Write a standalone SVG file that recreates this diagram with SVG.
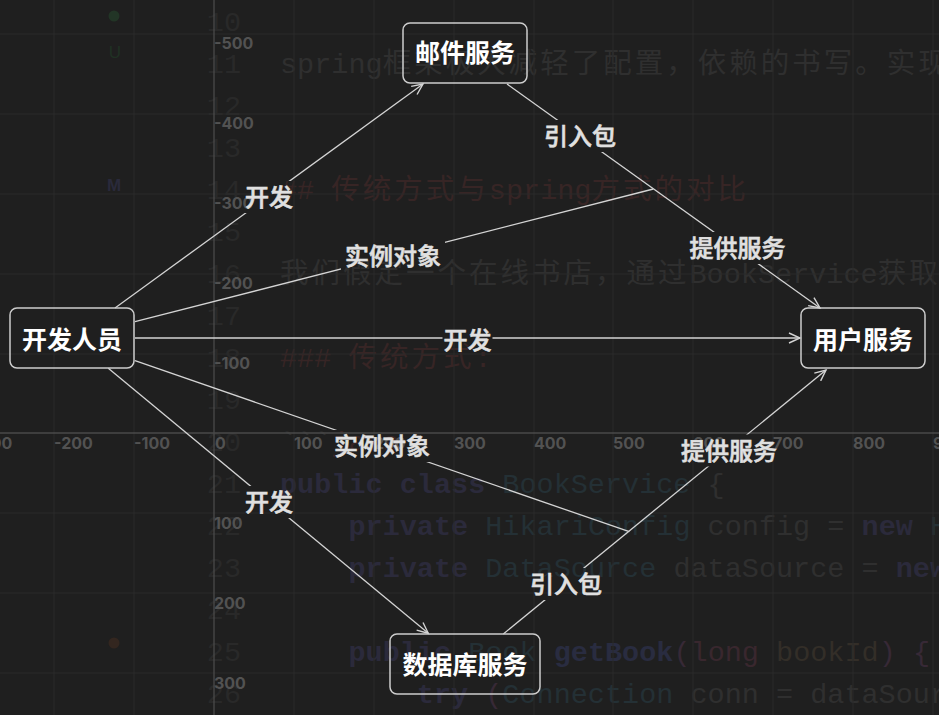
<svg xmlns="http://www.w3.org/2000/svg" width="939" height="715" viewBox="0 0 939 715">
<defs>
<style>
.bg{fill:#1f1f1f}
.grid{stroke:#2a2a2a;stroke-width:1}
.axis{stroke:#4a4a4a;stroke-width:1.3}
.ax{font-family:"Inter","Liberation Sans",sans-serif;font-size:16px;font-weight:700;fill:#525252}
.ax text{fill:#525252}
.code{font-family:"Liberation Mono","Noto Sans CJK SC",monospace;font-size:28.5px;fill:#2f2f2f}
.cjk{font-family:"Noto Sans CJK SC",sans-serif;letter-spacing:3px}
.ln{fill:#292929;text-anchor:end}
.hd{fill:#372525}
.kw{fill:#2b2a3b;font-weight:bold}
.ty{fill:#243035}
.fn{fill:#292c40;font-weight:bold}
.pn{fill:#372936}
.lg{fill:#39272e}
.id{fill:#332e28}
.node rect{fill:none;stroke:#cdcdcd;stroke-width:1.5}
.node text{font-family:"Noto Sans CJK SC",sans-serif;font-size:25px;font-weight:bold;fill:#ffffff;text-anchor:middle}
.edge{fill:none;stroke:#d4d4d4;stroke-width:1.3}
.lbl{font-family:"Noto Sans CJK SC",sans-serif;font-size:24px;font-weight:500;fill:#e0e0e0;stroke:#e0e0e0;stroke-width:0.6;text-anchor:middle}
</style>
<marker id="arr" markerUnits="userSpaceOnUse" markerWidth="14" markerHeight="12" refX="12" refY="6" orient="auto">
<path d="M1,1 L12,6 L1,11" fill="none" stroke="#d4d4d4" stroke-width="1.4"/>
</marker>
<mask id="gap" maskUnits="userSpaceOnUse" x="0" y="0" width="939" height="715">
<rect x="0" y="0" width="939" height="715" fill="#fff"/>
<rect x="242" y="181" width="54" height="32" fill="#000"/>
<rect x="541" y="120" width="78" height="32" fill="#000"/>
<rect x="341" y="241" width="104" height="30" fill="#000"/>
<rect x="685.5" y="232" width="104" height="32" fill="#000"/>
<rect x="442.5" y="325" width="50" height="30" fill="#000"/>
<rect x="330" y="430" width="104" height="32" fill="#000"/>
<rect x="677" y="434.5" width="104" height="32" fill="#000"/>
<rect x="242" y="486" width="54" height="32" fill="#000"/>
<rect x="527" y="568" width="78" height="32" fill="#000"/>
</mask>
</defs>

<rect class="bg" x="0" y="0" width="939" height="715"/>

<g id="background-code" class="code">
<text class="ln" x="241" y="31">10</text>
<text class="ln" x="241" y="73">11</text>
<text class="ln" x="241" y="115">12</text>
<text class="ln" x="241" y="157">13</text>
<text class="ln" x="241" y="199">14</text>
<text class="ln" x="241" y="241">15</text>
<text class="ln" x="241" y="283">16</text>
<text class="ln" x="241" y="325">17</text>
<text class="ln" x="241" y="367">18</text>
<text class="ln" x="241" y="409">19</text>
<text class="ln" x="241" y="451">20</text>
<text class="ln" x="241" y="493">21</text>
<text class="ln" x="241" y="535">22</text>
<text class="ln" x="241" y="577">23</text>
<text class="ln" x="241" y="619">24</text>
<text class="ln" x="241" y="661">25</text>
<text class="ln" x="241" y="703">26</text>
<text x="280" y="73">spring<tspan class="cjk">框架极大减轻了配置，依赖的书写。实现</tspan></text>
<text class="hd" x="280" y="199">## <tspan class="cjk">传统方式与</tspan>spring<tspan class="cjk">方式的对比</tspan></text>
<text x="280" y="283"><tspan class="cjk">我们假定一个在线书店，通过</tspan>BookService<tspan class="cjk">获取</tspan></text>
<text class="hd" x="280" y="367">### <tspan class="cjk">传统方式</tspan>:</text>
<text x="280" y="451">```<tspan class="hd">java</tspan></text>
<text x="280" y="493" xml:space="preserve"><tspan class="kw">public class</tspan> <tspan class="ty">BookService</tspan> {</text>
<text x="280" y="535" xml:space="preserve">    <tspan class="kw">private</tspan> <tspan class="ty">HikariConfig</tspan> config = <tspan class="kw">new</tspan> <tspan class="ty">HikariConfig</tspan>();</text>
<text x="280" y="577" xml:space="preserve">    <tspan class="kw">private</tspan> <tspan class="ty">DataSource</tspan> dataSource = <tspan class="kw">new</tspan> <tspan class="ty">HikariDataSource</tspan>(config);</text>
<text x="280" y="661" xml:space="preserve">    <tspan class="kw">public</tspan> <tspan class="ty">Book</tspan> <tspan class="fn">getBook</tspan><tspan class="pn">(</tspan><tspan class="lg">long</tspan> <tspan class="id">bookId</tspan><tspan class="pn">)</tspan> <tspan class="pn">{</tspan></text>
<text x="280" y="703" xml:space="preserve">        <tspan class="kw">try</tspan> <tspan class="pn">(</tspan><tspan class="ty">Connection</tspan> conn = dataSource.getConnection()) {</text>
<circle cx="114" cy="16" r="5.5" fill="#223526"/>
<text x="115" y="58" text-anchor="middle" style="font-family:'Liberation Sans',sans-serif;font-size:17px;fill:#1f3123">U</text>
<text x="114" y="191" text-anchor="middle" style="font-family:'Liberation Sans',sans-serif;font-size:17px;font-weight:bold;fill:#2a2a3b">M</text>
<circle cx="114" cy="643" r="5.5" fill="#33261f"/>
</g>

<g id="grid">
<path class="grid" d="M54,0V715M134,0V715M294,0V715M374,0V715M454,0V715M534,0V715M613,0V715M693,0V715M773,0V715M853,0V715M933,0V715M0,34H939M0,114H939M0,194H939M0,274H939M0,354H939M0,513H939M0,593H939M0,673H939"/>
<path class="axis" d="M214,0V715M0,433H939"/>
<g class="ax">
<text x="214" y="49" fill="#525252">-500</text>
<text x="214" y="129" fill="#525252">-400</text>
<text x="214" y="209" fill="#525252">-300</text>
<text x="214" y="289" fill="#525252">-200</text>
<text x="214" y="369" fill="#525252">-100</text>
<text x="214" y="529" fill="#525252">100</text>
<text x="214" y="609" fill="#525252">200</text>
<text x="214" y="689" fill="#525252">300</text>
<text x="-27" y="449">-300</text>
<text x="54" y="449">-200</text>
<text x="134" y="449">-100</text>
<text x="215" y="449">0</text>
<text x="294" y="449">100</text>
<text x="374" y="449">200</text>
<text x="454" y="449">300</text>
<text x="534" y="449">400</text>
<text x="613" y="449">500</text>
<text x="693" y="449">600</text>
<text x="773" y="449">700</text>
<text x="853" y="449">800</text>
<text x="933" y="449">900</text>
</g>
</g>

<g id="connectors" mask="url(#gap)">
<path class="edge" d="M115,308 L423,84" marker-end="url(#arr)"/>
<path class="edge" d="M507,84 L820,308" marker-end="url(#arr)"/>
<path class="edge" d="M135,321.7 L653.3,189"/>
<path class="edge" d="M135,338 L800,338" marker-end="url(#arr)"/>
<path class="edge" d="M135,360.7 L629.3,531.7"/>
<path class="edge" d="M503.3,634 L826,370" marker-end="url(#arr)"/>
<path class="edge" d="M108.3,368.3 L428.3,633.3" marker-end="url(#arr)"/>
</g>

<g id="edge-labels" class="lbl">
<text x="269" y="206">开发</text>
<text x="580" y="145">引入包</text>
<text x="393" y="265">实例对象</text>
<text x="737.5" y="257">提供服务</text>
<text x="467.5" y="349">开发</text>
<text x="382" y="455">实例对象</text>
<text x="729" y="459.5">提供服务</text>
<text x="269" y="511">开发</text>
<text x="566" y="593">引入包</text>
</g>

<g id="node-mail" class="node">
<rect x="403" y="23" width="124" height="60" rx="7"/>
<text x="465" y="62">邮件服务</text>
</g>
<g id="node-dev" class="node">
<rect x="10" y="308" width="124" height="60" rx="7"/>
<text x="72" y="349">开发人员</text>
</g>
<g id="node-user" class="node">
<rect x="801" y="308" width="124" height="60" rx="7"/>
<text x="863" y="349">用户服务</text>
</g>
<g id="node-db" class="node">
<rect x="390" y="634" width="150" height="60" rx="7"/>
<text x="465" y="673.5">数据库服务</text>
</g>
</svg>
